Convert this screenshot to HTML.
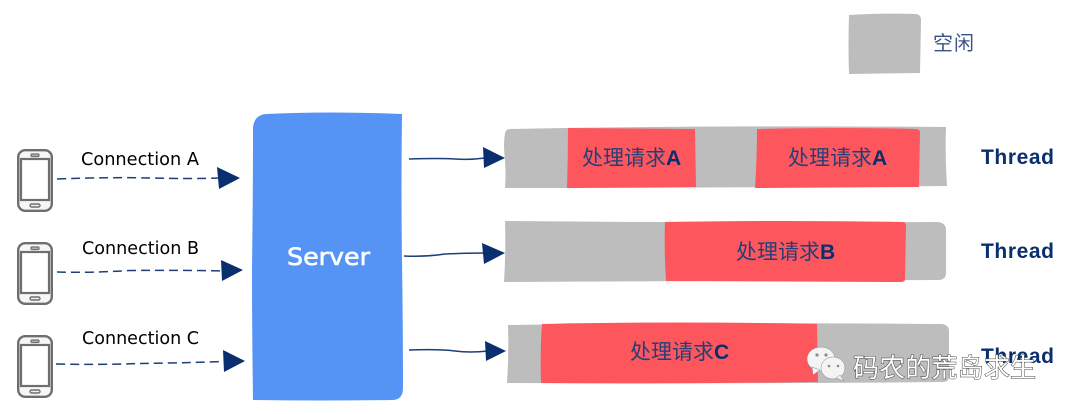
<!DOCTYPE html>
<html><head><meta charset="utf-8"><style>
html,body{margin:0;padding:0;background:#fff;width:1070px;height:414px;overflow:hidden}
svg{display:block}
.c{font-family:"DejaVu Sans","Liberation Sans",sans-serif;font-size:18px;fill:#000}
.t{font-family:"Liberation Sans",sans-serif;font-size:21px;font-weight:bold;fill:#0a2f6e}
.z{font-family:"Liberation Sans","Noto Sans CJK SC",sans-serif;font-size:21px;fill:#243f78}
.z tspan{font-weight:bold;font-size:21px;fill:#0a2f6e}
</style></head><body>
<svg width="1070" height="414" viewBox="0 0 1070 414" xmlns="http://www.w3.org/2000/svg">
<defs>
<g id="phone">
<rect x="18.2" y="1.2" width="33.6" height="60.6" rx="7" fill="#f6f6f6" stroke="#6e6e6e" stroke-width="2.4"/>
<rect x="21" y="10" width="28" height="41" fill="#fff" stroke="#6e6e6e" stroke-width="2.2"/>
<rect x="31" y="5" width="8" height="2.5" rx="1" fill="#bbb" stroke="#6e6e6e" stroke-width="1.2"/>
<rect x="30" y="55" width="10" height="3" rx="1.5" fill="#eee" stroke="#6e6e6e" stroke-width="1.4"/>
</g>
</defs>

<!-- legend -->
<path d="M849 15 Q885 13 915 14 Q921 14 921 20 L920 73 L849 74 Q848 45 849 15Z" fill="#bdbdbd"/>
<text x="933" y="50" font-family="'Liberation Sans','Noto Sans CJK SC',sans-serif" font-size="20" fill="#3a5384" textLength="41">空闲</text>

<!-- phones -->
<use href="#phone" y="149"/>
<use href="#phone" y="242"/>
<use href="#phone" y="335"/>

<!-- connections -->
<text class="c" x="81" y="165" textLength="118" lengthAdjust="spacingAndGlyphs">Connection A</text>
<text class="c" x="82" y="254" textLength="117" lengthAdjust="spacingAndGlyphs">Connection B</text>
<text class="c" x="82" y="344" textLength="117" lengthAdjust="spacingAndGlyphs">Connection C</text>
<g fill="none" stroke="#1c3f78" stroke-width="1.5" stroke-dasharray="9 5">
<path d="M57 179 Q110 177 150 178 T220 178"/>
<path d="M57 272 Q90 273 130 270.500 Q180 270 224 271"/>
<path d="M56 364 Q100 365 140 363.500 Q180 363 224 361.500"/>
</g>
<g fill="#0a2f6e">
<path d="M217 167 L240 178 L219 189Z"/>
<path d="M221 260 L243 270 L222 281Z"/>
<path d="M223 350 L245 361 L224 372Z"/>
</g>

<!-- server -->
<path d="M266 114 Q330 111 402 114 Q401 190 402 260 Q403 330 403 388 Q403 400 392 400 Q320 401 253 400 Q252 330 252 270 Q253 190 253 128 Q254 115 266 114Z" fill="#5593f5"/>
<text x="287" y="265" font-family="'DejaVu Sans',sans-serif" font-size="24" fill="#fff" stroke="#fff" stroke-width=".6" textLength="83" lengthAdjust="spacingAndGlyphs">Server</text>

<!-- arrows to threads -->
<g fill="none" stroke="#1c3f78" stroke-width="1.5">
<path d="M409 159 Q440 158 455 159 T485 158"/>
<path d="M404 256 Q425 257 445 254 Q465 253 485 253"/>
<path d="M409 350 Q440 349 455 351 T488 351"/>
</g>
<g fill="#0a2f6e">
<path d="M483 147 L505 158 L484 168Z"/>
<path d="M482 243 L505 253 L484 264Z"/>
<path d="M485 341 L506 351 L486 361Z"/>
</g>

<!-- thread 1 -->
<path d="M510 129 Q720 125 946 127 Q945 155 947 186 Q720 188 505 188 Q506 175 505 160 Q503 145 505 133 Q506 129 510 129Z" fill="#bdbdbd"/>
<path d="M568 128 L695 129 L696 187 L567 188 Q568 158 568 128Z" fill="#fd575d"/>
<path d="M757 129 Q840 127 916 129 Q920 129 920 133 L919 187 L755 188 Q757 158 757 129Z" fill="#fd575d"/>
<text class="z" x="582" y="165">处理请求<tspan>A</tspan></text>
<text class="z" x="788" y="165">处理请求<tspan>A</tspan></text>

<!-- thread 2 -->
<path d="M505 221 Q720 223 938 222 Q946 223 946 230 L946 273 Q946 280 938 280 Q720 281 504 282 Q506 250 505 221Z" fill="#bdbdbd"/>
<path d="M665 222 Q790 220 903 222 Q906 222 906 226 L905 279 Q905 282 901 282 L666 281 Q664 250 665 222Z" fill="#fd575d"/>
<text class="z" x="736" y="259">处理请求<tspan>B</tspan></text>

<!-- thread 3 -->
<path d="M508 325 Q730 322 942 324 Q949 325 949 331 L949 377 Q949 382 942 382 Q730 384 507 383 Q509 355 508 325Z" fill="#bdbdbd"/>
<path d="M542 324 Q680 321 817 324 L818 382 Q680 384 541 383 Q540 350 542 324Z" fill="#fd575d"/>
<text class="z" x="630" y="359">处理请求<tspan>C</tspan></text>

<!-- thread labels -->
<text class="t" x="981" y="164" textLength="73">Thread</text>
<text class="t" x="981" y="258" textLength="73">Thread</text>
<text class="t" x="981" y="363" textLength="73">Thread</text>

<!-- watermark -->
<g fill="#f4f4f4" stroke="#8a8a8a" stroke-width=".5">
<ellipse cx="821" cy="359" rx="14" ry="12"/>
<path d="M812 367 L813 375 L820 370Z"/>
<ellipse cx="833" cy="368" rx="12" ry="11"/>
<path d="M840 375 L844 381 L836 378Z"/>
</g>
<g fill="#8a8a8a"><circle cx="817" cy="355" r="1.6"/><circle cx="826" cy="355" r="1.6"/><circle cx="829" cy="366" r="1.3"/><circle cx="838" cy="366" r="1.3"/></g>
<text x="853" y="377" font-family="'Liberation Sans','Noto Sans CJK SC',sans-serif" font-size="26" fill="#fff" stroke="#444" stroke-width="1" paint-order="stroke" textLength="183">码农的荒岛求生</text>
</svg>
</body></html>
